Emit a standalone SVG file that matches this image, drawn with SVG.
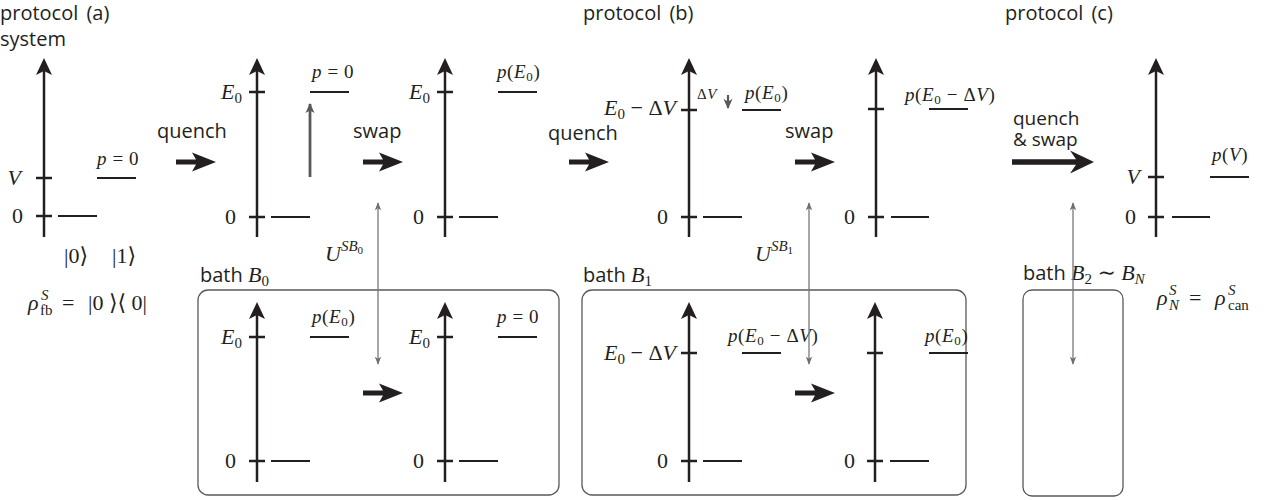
<svg xmlns="http://www.w3.org/2000/svg" xmlns:xlink="http://www.w3.org/1999/xlink" width="1273" height="500" viewBox="0 0 1273 500">
<style>
.sans{font-family:"Open Sans","Liberation Sans",sans-serif;font-size:20px;fill:#231f20}
.m{font-family:"Liberation Serif","DejaVu Serif",serif;font-size:22px;fill:#231f20}
.ms{font-family:"Liberation Serif","DejaVu Serif",serif;font-size:19px;fill:#231f20;letter-spacing:0.6px}
.i{font-style:italic}
.sub{font-size:15px}
.ssub{font-size:13px}
.axis{stroke:#231f20;stroke-width:2.5}
.lvl{stroke:#231f20;stroke-width:2}
.thin{stroke:#77787b;stroke-width:1.3;fill:none}
.box{fill:none;stroke:#58595b;stroke-width:1.3}
.bold{fill:#231f20}
</style>
<defs>
<path id="ah" d="M0,0 L8,17 L0,13 L-8,17 Z" fill="#231f20"/>
<path id="ba" d="M0,-2.6 L20,-2.6 L16,-9.5 L40,0 L16,9.5 L20,2.6 L0,2.6 Z" fill="#231f20"/>
<marker id="tg" viewBox="0 0 10 10" refX="9" refY="5" markerWidth="9" markerHeight="8" markerUnits="userSpaceOnUse" orient="auto-start-reverse">
<path d="M0,1 L10,5 L0,9 L2.5,5 Z" fill="#6d6e71"/>
</marker>
<marker id="gq" viewBox="0 0 10 10" refX="9" refY="5" markerWidth="11" markerHeight="10" markerUnits="userSpaceOnUse" orient="auto">
<path d="M0,0.5 L10,5 L0,9.5 L2.5,5 Z" fill="#58595b"/>
</marker>
</defs>

<!-- headings -->
<text class="sans" x="0" y="20" word-spacing="3">protocol (a)</text>
<text class="sans" x="0" y="46">system</text>
<text class="sans" x="583" y="20" word-spacing="3">protocol (b)</text>
<text class="sans" x="1005" y="20" word-spacing="3">protocol (c)</text>

<!-- system (a) initial -->
<g id="sysA0">
<line class="axis" x1="44" y1="68" x2="44" y2="237"/><use xlink:href="#ah" x="44" y="58"/>
<line class="axis" x1="36" y1="178" x2="52" y2="178"/>
<line class="axis" x1="36" y1="216" x2="52" y2="216"/>
<line class="lvl" x1="58" y1="216" x2="97" y2="216"/>
<line class="lvl" x1="97" y1="178" x2="136" y2="178"/>
<text class="m i" x="21" y="185" text-anchor="end">V</text>
<text class="m" x="23" y="223" text-anchor="end">0</text>
<text class="ms" x="97" y="165"><tspan class="i">p</tspan> = 0</text>
<text class="m" x="64" y="263">|0⟩</text>
<text class="m" x="112" y="263">|1⟩</text>
<text class="m" x="28" y="310"><tspan class="i">ρ</tspan><tspan class="i sub" x="41" dy="-10">S</tspan><tspan class="sub" x="40" dy="15">fb</tspan><tspan x="62" dy="-5">=</tspan><tspan x="88">|0 ⟩⟨ 0|</tspan></text>
</g>

<!-- system (a) after quench -->
<g id="sysA1">
<line class="axis" x1="257" y1="68" x2="257" y2="237"/><use xlink:href="#ah" x="257" y="58"/>
<line class="axis" x1="249" y1="92" x2="265" y2="92"/>
<line class="axis" x1="249" y1="217" x2="265" y2="217"/>
<line class="lvl" x1="271" y1="217" x2="310" y2="217"/>
<line class="lvl" x1="310" y1="92" x2="349" y2="92"/>
<text class="m" x="242" y="99" text-anchor="end"><tspan class="i">E</tspan><tspan class="sub" dy="4">0</tspan></text>
<text class="m" x="236" y="224" text-anchor="end">0</text>
<text class="ms" x="312" y="78"><tspan class="i">p</tspan> = 0</text>
<line x1="310" y1="177" x2="310" y2="104" stroke="#58595b" stroke-width="2.8" marker-end="url(#gq)"/>
</g>

<!-- system (a) after swap -->
<g id="sysA2">
<line class="axis" x1="445" y1="68" x2="445" y2="237"/><use xlink:href="#ah" x="445" y="58"/>
<line class="axis" x1="437" y1="92" x2="453" y2="92"/>
<line class="axis" x1="437" y1="217" x2="453" y2="217"/>
<line class="lvl" x1="459" y1="217" x2="498" y2="217"/>
<line class="lvl" x1="498" y1="92" x2="537" y2="92"/>
<text class="m" x="430" y="99" text-anchor="end"><tspan class="i">E</tspan><tspan class="sub" dy="4">0</tspan></text>
<text class="m" x="424" y="224" text-anchor="end">0</text>
<text class="ms" x="497" y="78"><tspan class="i">p</tspan>(<tspan class="i">E</tspan><tspan class="ssub" dy="3">0</tspan><tspan dy="-3">)</tspan></text>
</g>

<!-- bath B0 -->
<g id="bathB0">
<rect class="box" x="198" y="290" width="361" height="205" rx="10"/>
<text class="sans" x="200" y="282">bath <tspan class="m i">B</tspan><tspan class="m sub" dy="4">0</tspan></text>
</g>
<g id="bathB0a">
<line class="axis" x1="257" y1="312" x2="257" y2="482"/><use xlink:href="#ah" x="257" y="302"/>
<line class="axis" x1="249" y1="337" x2="265" y2="337"/>
<line class="axis" x1="249" y1="461" x2="265" y2="461"/>
<line class="lvl" x1="271" y1="461" x2="310" y2="461"/>
<line class="lvl" x1="310" y1="337" x2="349" y2="337"/>
<text class="m" x="242" y="344" text-anchor="end"><tspan class="i">E</tspan><tspan class="sub" dy="4">0</tspan></text>
<text class="m" x="236" y="468" text-anchor="end">0</text>
<text class="ms" x="312" y="323"><tspan class="i">p</tspan>(<tspan class="i">E</tspan><tspan class="ssub" dy="3">0</tspan><tspan dy="-3">)</tspan></text>
</g>
<g id="bathB0b">
<line class="axis" x1="445" y1="312" x2="445" y2="482"/><use xlink:href="#ah" x="445" y="302"/>
<line class="axis" x1="437" y1="337" x2="453" y2="337"/>
<line class="axis" x1="437" y1="461" x2="453" y2="461"/>
<line class="lvl" x1="459" y1="461" x2="498" y2="461"/>
<line class="lvl" x1="498" y1="337" x2="537" y2="337"/>
<text class="m" x="430" y="344" text-anchor="end"><tspan class="i">E</tspan><tspan class="sub" dy="4">0</tspan></text>
<text class="m" x="424" y="468" text-anchor="end">0</text>
<text class="ms" x="497" y="323"><tspan class="i">p</tspan> = 0</text>
</g>

<!-- system (b) after quench -->
<g id="sysB1">
<line class="axis" x1="689" y1="68" x2="689" y2="237"/><use xlink:href="#ah" x="689" y="58"/>
<line class="axis" x1="681" y1="110" x2="697" y2="110"/>
<line class="axis" x1="681" y1="217" x2="697" y2="217"/>
<line class="lvl" x1="703" y1="217" x2="742" y2="217"/>
<line class="lvl" x1="742" y1="110" x2="781" y2="110"/>
<text class="m" x="676" y="115" text-anchor="end"><tspan class="i">E</tspan><tspan class="sub" dy="4">0</tspan><tspan dy="-4"> − Δ</tspan><tspan class="i">V</tspan></text>
<text class="m" x="668" y="224" text-anchor="end">0</text>
<text class="ms" x="697" y="99" style="font-size:15px">Δ<tspan class="i">V</tspan></text>
<line x1="728" y1="95" x2="728" y2="108" stroke="#58595b" stroke-width="2.2" marker-end="url(#gq)"/>
<text class="ms" x="745" y="99"><tspan class="i">p</tspan>(<tspan class="i">E</tspan><tspan class="ssub" dy="3">0</tspan><tspan dy="-3">)</tspan></text>
</g>

<!-- system (b) after swap -->
<g id="sysB2">
<line class="axis" x1="876" y1="68" x2="876" y2="237"/><use xlink:href="#ah" x="876" y="58"/>
<line class="axis" x1="868" y1="109" x2="884" y2="109"/>
<line class="axis" x1="868" y1="217" x2="884" y2="217"/>
<line class="lvl" x1="891" y1="217" x2="929" y2="217"/>
<line class="lvl" x1="929" y1="109" x2="968" y2="109"/>
<text class="m" x="855" y="224" text-anchor="end">0</text>
<text class="ms" x="905" y="101"><tspan class="i">p</tspan>(<tspan class="i">E</tspan><tspan class="ssub" dy="3">0</tspan><tspan dy="-3"> − Δ</tspan><tspan class="i">V</tspan>)</text>
</g>

<!-- bath B1 -->
<g id="bathB1">
<rect class="box" x="582" y="290" width="384" height="205" rx="10"/>
<text class="sans" x="583" y="282">bath <tspan class="m i">B</tspan><tspan class="m sub" dy="4">1</tspan></text>
</g>
<g id="bathB1a">
<line class="axis" x1="689" y1="312" x2="689" y2="482"/><use xlink:href="#ah" x="689" y="302"/>
<line class="axis" x1="681" y1="353" x2="697" y2="353"/>
<line class="axis" x1="681" y1="461" x2="697" y2="461"/>
<line class="lvl" x1="703" y1="461" x2="742" y2="461"/>
<line class="lvl" x1="742" y1="353" x2="781" y2="353"/>
<text class="m" x="676" y="360" text-anchor="end"><tspan class="i">E</tspan><tspan class="sub" dy="4">0</tspan><tspan dy="-4"> − Δ</tspan><tspan class="i">V</tspan></text>
<text class="m" x="668" y="468" text-anchor="end">0</text>
<text class="ms" x="728" y="342"><tspan class="i">p</tspan>(<tspan class="i">E</tspan><tspan class="ssub" dy="3">0</tspan><tspan dy="-3"> − Δ</tspan><tspan class="i">V</tspan>)</text>
</g>
<g id="bathB1b">
<line class="axis" x1="875" y1="312" x2="875" y2="482"/><use xlink:href="#ah" x="875" y="302"/>
<line class="axis" x1="867" y1="353" x2="883" y2="353"/>
<line class="axis" x1="867" y1="461" x2="883" y2="461"/>
<line class="lvl" x1="890" y1="461" x2="929" y2="461"/>
<line class="lvl" x1="929" y1="353" x2="968" y2="353"/>
<text class="m" x="855" y="468" text-anchor="end">0</text>
<text class="ms" x="925" y="342"><tspan class="i">p</tspan>(<tspan class="i">E</tspan><tspan class="ssub" dy="3">0</tspan><tspan dy="-3">)</tspan></text>
</g>

<!-- system (c) -->
<g id="sysC">
<line class="axis" x1="1156" y1="68" x2="1156" y2="237"/><use xlink:href="#ah" x="1156" y="58"/>
<line class="axis" x1="1148" y1="177" x2="1164" y2="177"/>
<line class="axis" x1="1148" y1="217" x2="1164" y2="217"/>
<line class="lvl" x1="1172" y1="217" x2="1210" y2="217"/>
<line class="lvl" x1="1210" y1="177" x2="1249" y2="177"/>
<text class="m i" x="1140" y="184" text-anchor="end">V</text>
<text class="m" x="1136" y="224" text-anchor="end">0</text>
<text class="ms" x="1212" y="161"><tspan class="i">p</tspan>(<tspan class="i">V</tspan>)</text>
<text class="m" x="1157" y="305"><tspan class="i">ρ</tspan><tspan class="i sub" x="1169" dy="-10">S</tspan><tspan class="i sub" x="1169" dy="15">N</tspan><tspan x="1189" dy="-5">=</tspan><tspan class="i" x="1215">ρ</tspan><tspan class="i sub" x="1228" dy="-10">S</tspan><tspan class="sub" x="1228" dy="15">can</tspan></text>
</g>

<!-- bath B2..BN -->
<g id="bathB2N">
<rect class="box" x="1023" y="290" width="100" height="206" rx="9"/>
<text class="sans" x="1023" y="280">bath <tspan class="m i">B</tspan><tspan class="m sub" dy="4">2</tspan><tspan class="m" dy="-4"> ∼ </tspan><tspan class="m i">B</tspan><tspan class="m i sub" dy="4">N</tspan></text>
</g>

<!-- connectors -->
<g id="connectors">
<text class="sans" x="157" y="138">quench</text>
<use xlink:href="#ba" x="176" y="162"/>
<text class="sans" x="353" y="138">swap</text>
<use xlink:href="#ba" x="363" y="162"/>
<use xlink:href="#ba" x="363" y="393"/>
<text class="sans" x="548" y="140">quench</text>
<use xlink:href="#ba" x="569" y="162"/>
<text class="sans" x="785" y="138">swap</text>
<use xlink:href="#ba" x="795" y="162"/>
<use xlink:href="#ba" x="795" y="393"/>
<text class="sans" x="1013" y="125" style="font-size:19px">quench<tspan x="1013" dy="21">&amp; swap</tspan></text>
<path class="bold" d="M1012,159.3 L1076,159.3 L1070,150.5 L1094,162 L1070,173.5 L1076,164.7 L1012,164.7 Z"/>

<line class="thin" x1="378" y1="203" x2="378" y2="364" marker-start="url(#tg)" marker-end="url(#tg)"/>
<text class="m" x="325" y="261"><tspan class="i">U</tspan><tspan class="i sub" dy="-10">SB</tspan><tspan style="font-size:11px" dy="3">0</tspan></text>
<line class="thin" x1="809" y1="203" x2="809" y2="364" marker-start="url(#tg)" marker-end="url(#tg)"/>
<text class="m" x="755" y="261"><tspan class="i">U</tspan><tspan class="i sub" dy="-10">SB</tspan><tspan style="font-size:11px" dy="3">1</tspan></text>
<line class="thin" x1="1073" y1="203" x2="1073" y2="364" marker-start="url(#tg)" marker-end="url(#tg)"/>
</g>
</svg>
